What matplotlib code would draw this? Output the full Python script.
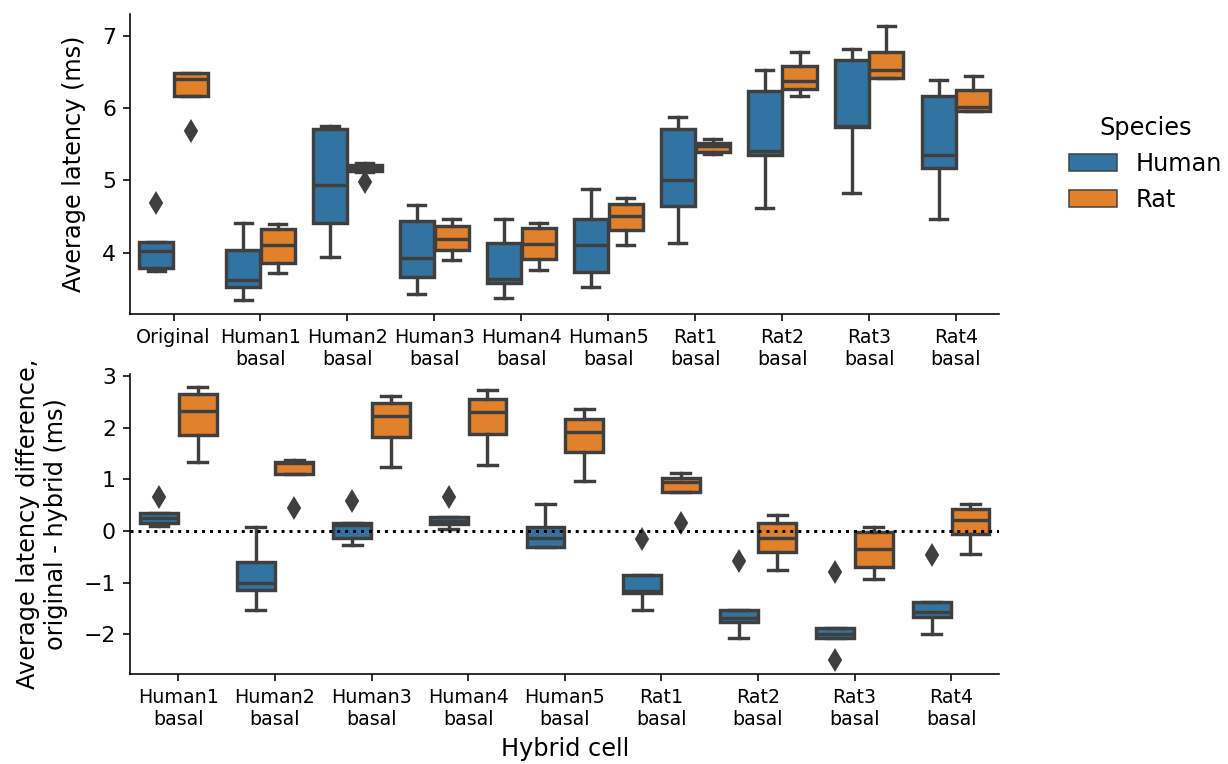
import matplotlib
matplotlib.use("Agg")
import matplotlib.pyplot as plt
from matplotlib.patches import Rectangle

# hybrid cell names
top_cells = ["Original", "Human1\nbasal", "Human2\nbasal", "Human3\nbasal", "Human4\nbasal",
             "Human5\nbasal", "Rat1\nbasal", "Rat2\nbasal", "Rat3\nbasal", "Rat4\nbasal"]
diff_cells = top_cells[1:]

# average latency (ms): box summaries per cell
lat_human_whislo = [3.75, 3.35, 3.94, 3.42, 3.37, 3.52, 4.13, 4.61, 4.83, 4.46]
lat_human_q1 = [3.78, 3.53, 4.41, 3.66, 3.58, 3.73, 4.65, 5.35, 5.73, 5.17]
lat_human_med = [4.02, 3.62, 4.93, 3.92, 3.64, 4.10, 5.00, 5.40, 5.75, 5.35]
lat_human_q3 = [4.15, 4.04, 5.71, 4.44, 4.13, 4.46, 5.71, 6.23, 6.67, 6.17]
lat_human_whishi = [4.15, 4.41, 5.75, 4.66, 4.46, 4.88, 5.87, 6.52, 6.82, 6.39]
lat_human_fliers = [[4.69], [], [], [], [], [], [], [], [], []]

lat_rat_whislo = [6.17, 3.72, 5.12, 3.89, 3.76, 4.11, 5.37, 6.17, 6.41, 5.96]
lat_rat_q1 = [6.17, 3.85, 5.13, 4.03, 3.91, 4.31, 5.39, 6.26, 6.41, 5.96]
lat_rat_med = [6.40, 4.10, 5.17, 4.19, 4.12, 4.50, 5.48, 6.37, 6.53, 6.02]
lat_rat_q3 = [6.49, 4.32, 5.21, 4.37, 4.34, 4.67, 5.52, 6.58, 6.77, 6.25]
lat_rat_whishi = [6.49, 4.39, 5.24, 4.46, 4.41, 4.75, 5.57, 6.77, 7.14, 6.44]
lat_rat_fliers = [[5.68], [], [4.98], [], [], [], [], [], [], []]

# latency difference, original - hybrid (ms)
diff_human_whislo = [0.10, -1.54, -0.27, 0.04, -0.32, -1.54, -2.07, -2.08, -2.00]
diff_human_q1 = [0.16, -1.15, -0.14, 0.13, -0.32, -1.21, -1.77, -2.08, -1.67]
diff_human_med = [0.25, -1.00, 0.12, 0.20, -0.13, -1.17, -1.68, -1.99, -1.57]
diff_human_q3 = [0.34, -0.60, 0.16, 0.27, 0.08, -0.85, -1.54, -1.88, -1.37]
diff_human_whishi = [0.34, 0.08, 0.16, 0.27, 0.52, -0.85, -1.54, -1.88, -1.37]
diff_human_fliers = [[0.65], [], [0.59], [0.65], [], [-0.16], [-0.59], [-0.80, -2.50], [-0.47]]

diff_rat_whislo = [1.33, 1.11, 1.25, 1.29, 0.97, 0.76, -0.76, -0.93, -0.45]
diff_rat_q1 = [1.87, 1.11, 1.83, 1.88, 1.53, 0.76, -0.41, -0.70, -0.06]
diff_rat_med = [2.33, 1.32, 2.23, 2.30, 1.92, 0.96, -0.14, -0.34, 0.21]
diff_rat_q3 = [2.66, 1.34, 2.48, 2.57, 2.18, 1.03, 0.15, -0.02, 0.43]
diff_rat_whishi = [2.79, 1.37, 2.61, 2.74, 2.36, 1.12, 0.32, 0.08, 0.52]
diff_rat_fliers = [[], [0.44], [], [], [], [0.15], [], [], []]

species = ["Human", "Rat"]
colors = ["#3274a1", "#e1812c"]
gray = "#3f3f3f"


def make_stats(whislo, q1, med, q3, whishi, fliers):
    return [dict(whislo=a, q1=b, med=c, q3=d, whishi=e, fliers=f)
            for a, b, c, d, e, f in zip(whislo, q1, med, q3, whishi, fliers)]


def draw_boxes(ax, stats, offset, color):
    n = len(stats)
    pos = [i + offset for i in range(n)]
    lw = 1.7
    ax.bxp(stats, positions=pos, widths=0.392, patch_artist=True, manage_ticks=False,
           boxprops=dict(facecolor=color, edgecolor=gray, linewidth=lw),
           medianprops=dict(color=gray, linewidth=lw),
           whiskerprops=dict(color=gray, linewidth=lw),
           capprops=dict(color=gray, linewidth=lw),
           flierprops=dict(marker="d", markerfacecolor=gray, markeredgecolor=gray,
                           markersize=7, linestyle="none"))


plt.rcParams["font.family"] = ["DejaVu Sans"]
fig, (ax1, ax2) = plt.subplots(2, 1, figsize=(1228 / 144, 764 / 144), dpi=144)
fig.subplots_adjust(left=0.1059, right=0.8139, top=0.9817, bottom=0.1174, hspace=0.201)

draw_boxes(ax1, make_stats(lat_human_whislo, lat_human_q1, lat_human_med, lat_human_q3,
                           lat_human_whishi, lat_human_fliers), -0.2, colors[0])
draw_boxes(ax1, make_stats(lat_rat_whislo, lat_rat_q1, lat_rat_med, lat_rat_q3,
                           lat_rat_whishi, lat_rat_fliers), 0.2, colors[1])
ax1.set_xticks(range(len(top_cells)))
ax1.set_xticklabels(top_cells, fontsize=9.5)
ax1.set_xlim(-0.5, len(top_cells) - 0.5)
ax1.set_ylim(3.15, 7.3)
ax1.set_yticks([4, 5, 6, 7])
ax1.tick_params(axis="y", labelsize=11)
ax1.set_ylabel("Average latency (ms)", fontsize=12, labelpad=8)

ax2.axhline(0, color="k", linestyle=":", linewidth=1.5, zorder=3)
draw_boxes(ax2, make_stats(diff_human_whislo, diff_human_q1, diff_human_med, diff_human_q3,
                           diff_human_whishi, diff_human_fliers), -0.2, colors[0])
draw_boxes(ax2, make_stats(diff_rat_whislo, diff_rat_q1, diff_rat_med, diff_rat_q3,
                           diff_rat_whishi, diff_rat_fliers), 0.2, colors[1])
ax2.set_xticks(range(len(diff_cells)))
ax2.set_xticklabels(diff_cells, fontsize=9.5)
ax2.set_xlim(-0.5, len(diff_cells) - 0.5)
ax2.set_ylim(-2.78, 3.04)
ax2.set_yticks([-2, -1, 0, 1, 2, 3])
ax2.tick_params(axis="y", labelsize=11)
ax2.set_ylabel("Average latency difference,\noriginal - hybrid (ms)", fontsize=12, labelpad=8)
ax2.set_xlabel("Hybrid cell", fontsize=12)

for ax in (ax1, ax2):
    ax.spines["top"].set_visible(False)
    ax.spines["right"].set_visible(False)

handles = [Rectangle((0, 0), 0, 0, facecolor=c, edgecolor=gray, linewidth=0.75, label=s)
           for s, c in zip(species, colors)]
ax1.legend(handles=handles, title="Species", loc="center left", bbox_to_anchor=(1.055, 0.5),
           frameon=False, fontsize=12, title_fontsize=12)

fig.savefig("out.png", dpi=144)
